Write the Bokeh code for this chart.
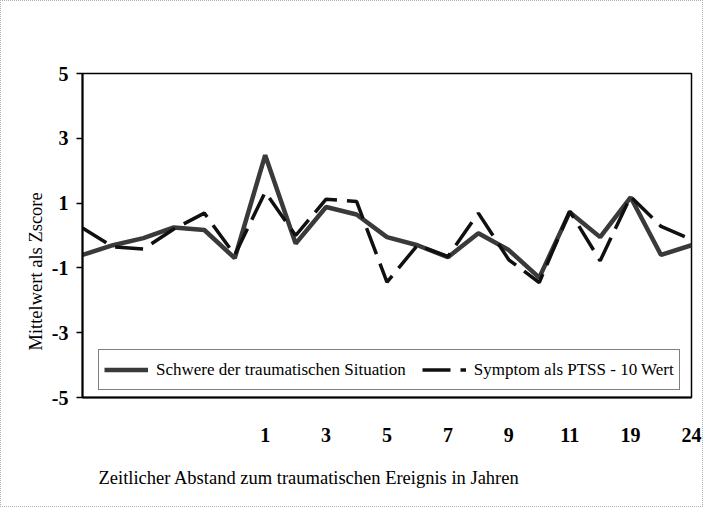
from bokeh.plotting import figure
from bokeh.models import Range1d, FixedTicker, Legend, LegendItem, Title
from bokeh.embed import file_html
from bokeh.resources import INLINE

# Category positions (21 time points) and their visible tick labels
categories = list(range(21))
tick_positions = [6, 8, 10, 12, 14, 16, 18, 20]
tick_labels = ["1", "3", "5", "7", "9", "11", "19", "24"]

# Series values (z-scores)
schwere = [-0.6, -0.3, -0.08, 0.25, 0.17, -0.7, 2.48, -0.25, 0.88, 0.65, -0.05,
           -0.3, -0.67, 0.07, -0.45, -1.3, 0.72, -0.05, 1.18, -0.6, -0.3]
symptom = [0.23, -0.35, -0.42, 0.2, 0.69, -0.6, 1.34, 0.0, 1.12, 1.05, -1.44,
           -0.3, -0.65, 0.69, -0.75, -1.45, 0.75, -0.78, 1.2, 0.28, -0.12]

y_ticks = [-5, -3, -1, 1, 3, 5]
y_tick_labels = ["-5", "-3", "-1", "1", "3", "5"]

SERIF = "Liberation Serif"

p = figure(width=703, height=507, output_backend="svg", toolbar_location=None,
           x_range=Range1d(0, 20), y_range=Range1d(-5, 5),
           min_border_left=81, min_border_right=13, min_border_top=72, min_border_bottom=111)
p.styles = {"border": "1px dotted #b0b0b0"}
p.background_fill_color = "white"
p.border_fill_color = "white"
p.xgrid.visible = False
p.ygrid.visible = False
p.outline_line_color = "black"
p.outline_line_width = 1.5

r1 = p.line(categories, schwere, line_color="#3a3a3a", line_width=4.5)
r2 = p.line(categories, symptom, line_color="#101010", line_width=3.5, line_dash="28 10")

# Y axis
ya = p.yaxis[0]
ya.ticker = FixedTicker(ticks=y_ticks)
ya.major_label_overrides = {t: l for t, l in zip(y_ticks, y_tick_labels)}
ya.axis_line_color = "black"
ya.axis_line_width = 2
ya.major_tick_out = 6
ya.major_tick_in = 0
ya.major_tick_line_width = 1.5
ya.minor_tick_out = 0
ya.minor_tick_in = 0
ya.major_label_text_font = SERIF
ya.major_label_text_font_style = "bold"
ya.major_label_text_font_size = "20px"
ya.major_label_text_color = "black"
ya.major_label_standoff = 8

# Y axis title (placed as a side title so it can sit below the frame centre)
yt = Title(text="Mittelwert als Zscore", align="left", offset=47, standoff=5,
           text_font=SERIF, text_font_style="normal", text_font_size="18.5px",
           text_color="black")
p.add_layout(yt, "left")

# X axis
xa = p.xaxis[0]
xa.ticker = FixedTicker(ticks=tick_positions)
xa.major_label_overrides = {t: l for t, l in zip(tick_positions, tick_labels)}
xa.axis_line_color = "black"
xa.axis_line_width = 2
xa.major_tick_out = 0
xa.major_tick_in = 0
xa.minor_tick_out = 0
xa.minor_tick_in = 0
xa.major_label_text_font = SERIF
xa.major_label_text_font_style = "bold"
xa.major_label_text_font_size = "20px"
xa.major_label_text_color = "black"
xa.major_label_standoff = 30

# X axis title, left-aligned like the reference
xt = Title(text="Zeitlicher Abstand zum traumatischen Ereignis in Jahren",
           align="left", offset=16, standoff=42,
           text_font=SERIF, text_font_style="normal", text_font_size="18.5px",
           text_color="black")
p.add_layout(xt, "below")

legend = Legend(items=[LegendItem(label="Schwere der traumatischen Situation", renderers=[r1]),
                       LegendItem(label="Symptom als PTSS - 10 Wert", renderers=[r2])],
                orientation="horizontal", location=(16, 7),
                glyph_width=44, glyph_height=29, label_height=29, label_standoff=8,
                spacing=16, padding=5, margin=0,
                label_text_font=SERIF, label_text_font_size="17px", label_text_color="black",
                border_line_color="black", border_line_width=1.5,
                background_fill_color="white", background_fill_alpha=1.0)
p.add_layout(legend, "center")

open("out.html", "w").write(file_html(p, INLINE))
